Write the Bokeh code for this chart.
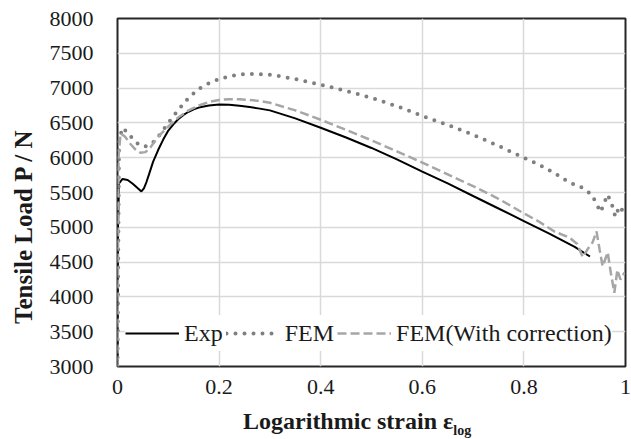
import math
from bokeh.plotting import figure
from bokeh.layouts import row, column
from bokeh.models import FixedTicker, Legend, LegendItem, Range1d
from bokeh.core.properties import value
from bokeh.embed import file_html
from bokeh.resources import INLINE

# ---- data ----
exp_x = [0.0, 0.001, 0.003, 0.01, 0.02, 0.03, 0.04, 0.047, 0.052, 0.057, 0.062, 0.07, 0.08,
         0.09, 0.1, 0.11, 0.12, 0.13, 0.14, 0.15, 0.16, 0.18, 0.2, 0.22, 0.24, 0.26, 0.28,
         0.3, 0.35, 0.4, 0.45, 0.5, 0.55, 0.6, 0.65, 0.7, 0.75, 0.8, 0.85, 0.9, 0.93]
exp_y = [3000, 5000, 5630, 5695, 5680, 5625, 5560, 5515, 5560, 5650, 5760, 5940, 6110,
         6260, 6390, 6480, 6555, 6615, 6660, 6695, 6720, 6750, 6765, 6762, 6748, 6728, 6705,
         6680, 6565, 6430, 6290, 6140, 5975, 5800, 5630, 5450, 5270, 5090, 4910, 4720, 4580]

fem_x = [0.0, 0.003, 0.01, 0.02, 0.03, 0.04, 0.05, 0.06, 0.07, 0.08, 0.09, 0.1, 0.12, 0.14,
         0.16, 0.18, 0.2, 0.22, 0.24, 0.26, 0.28, 0.3, 0.32, 0.35, 0.4, 0.45, 0.5, 0.55, 0.6,
         0.65, 0.7, 0.75, 0.8, 0.83, 0.86, 0.89, 0.91, 0.925, 0.935, 0.942, 0.951, 0.958,
         0.965, 0.975, 0.98, 0.988, 1.0]
fem_y = [3000, 6250, 6430, 6360, 6270, 6200, 6160, 6170, 6220, 6300, 6400, 6500, 6690, 6860,
         6990, 7070, 7130, 7170, 7195, 7205, 7200, 7190, 7170, 7130, 7050, 6960, 6860, 6740, 6600,
         6470, 6330, 6170, 6000, 5900, 5780, 5640, 5590, 5520, 5450, 5350, 5220, 5350,
         5470, 5290, 5150, 5300, 5180]

corr_x = [0.0, 0.002, 0.006, 0.015, 0.025, 0.035, 0.045, 0.055, 0.065, 0.075, 0.085, 0.1,
          0.12, 0.14, 0.16, 0.18, 0.2, 0.22, 0.24, 0.26, 0.28, 0.3, 0.35, 0.4, 0.45, 0.5,
          0.55, 0.6, 0.65, 0.7, 0.75, 0.8, 0.83, 0.86, 0.89, 0.905, 0.916, 0.925, 0.935,
          0.943, 0.949, 0.955, 0.965, 0.971, 0.978, 0.984, 0.99, 0.998]
corr_y = [3000, 6000, 6350, 6300, 6200, 6120, 6070, 6080, 6150, 6250, 6340, 6450,
          6580, 6680, 6750, 6800, 6830, 6840, 6840, 6830, 6815, 6790, 6680, 6545, 6400, 6250,
          6090, 5930, 5760, 5590, 5410, 5200, 5080, 4940, 4850, 4760, 4570, 4680, 4780,
          4940, 4680, 4440, 4640, 4350, 4060, 4390, 4250, 4350]

x_ticks = [0, 0.2, 0.4, 0.6, 0.8, 1.0]
x_tick_labels = ["0", "0.2", "0.4", "0.6", "0.8", "1"]
y_ticks = [3000, 3500, 4000, 4500, 5000, 5500, 6000, 6500, 7000, 7500, 8000]

series_names = ["Exp", "FEM", "FEM(With correction)"]
x_title = "Logarithmic strain ε"
x_title_sub = "log"
y_title = "Tensile Load P / N"

FONT = "Liberation Serif"
TXT = "#1a1a1a"

YT_W = 40          # y-title strip
MAIN_W = 591
MAIN_H = 404       # frame 18..366, tick labels below
XT_H = 35          # x title strip
TOTAL_H = MAIN_H + XT_H
BORDER_L = 77
BORDER_R = 6

x_range = Range1d(0, 1)


def style_axis(ax):
    ax.axis_line_color = None
    ax.major_tick_line_color = None
    ax.minor_tick_line_color = None
    ax.major_tick_out = 0
    ax.major_tick_in = 0
    ax.minor_tick_out = 0
    ax.minor_tick_in = 0
    ax.major_label_text_font = FONT
    ax.major_label_text_font_size = "22px"
    ax.major_label_text_color = TXT


# ---- main plot ----
p = figure(width=MAIN_W, height=MAIN_H, output_backend="svg", toolbar_location=None,
           title=None, x_range=x_range, y_range=Range1d(3000, 8000),
           min_border_left=BORDER_L, min_border_right=BORDER_R,
           min_border_top=18, min_border_bottom=38)
p.background_fill_color = "white"
p.border_fill_color = "white"
p.outline_line_color = "#262626"
p.outline_line_width = 2

p.xaxis.ticker = FixedTicker(ticks=x_ticks)
p.xaxis.major_label_overrides = {t: l for t, l in zip(x_ticks, x_tick_labels)}
p.yaxis.ticker = FixedTicker(ticks=y_ticks)
style_axis(p.xaxis[0])
style_axis(p.yaxis[0])
p.xaxis[0].major_label_standoff = 13
p.yaxis[0].major_label_standoff = 24

p.xgrid.ticker = FixedTicker(ticks=x_ticks)
p.ygrid.ticker = FixedTicker(ticks=y_ticks)
p.grid.grid_line_color = "#d9d9d9"
p.grid.grid_line_width = 1.5

r_exp = p.line(exp_x, exp_y, line_color="black", line_width=2)
r_fem = p.line(fem_x, fem_y, line_color="#7f7f7f", line_width=4, line_dash="0 9", line_cap="round")
r_corr = p.line(corr_x, corr_y, line_color="#a6a6a6", line_width=2.5, line_dash="9 4")

legend = Legend(items=[LegendItem(label=series_names[0], renderers=[r_exp]),
                       LegendItem(label=series_names[1], renderers=[r_fem]),
                       LegendItem(label=series_names[2], renderers=[r_corr])],
                orientation="horizontal", location=(8, 15),
                label_text_font=FONT, label_text_font_size="24px", label_text_color=TXT,
                glyph_width=54, label_standoff=5, spacing=3, padding=7,
                background_fill_color="white", background_fill_alpha=1.0,
                border_line_color=None, margin=0, label_height=36)
p.add_layout(legend, "center")

# ---- x title strip (shares the x range) ----
xt = figure(width=MAIN_W, height=XT_H, output_backend="svg", toolbar_location=None,
            title=None, x_range=x_range, y_range=Range1d(0, XT_H),
            x_axis_type=None, y_axis_type=None,
            min_border_left=BORDER_L, min_border_right=BORDER_R,
            min_border_top=0, min_border_bottom=0)
xt.grid.visible = False
xt.outline_line_color = None
xt.background_fill_color = "white"
xt.border_fill_color = "white"
xt.text(x=[0.661], y=[19.0], text=[x_title],
        text_font=value(FONT), text_font_size="24px", text_font_style="bold",
        text_color=TXT, text_align="right", text_baseline="middle")
xt.text(x=[0.661], y=[9.5], text=[x_title_sub],
        text_font=value(FONT), text_font_size="14px", text_font_style="bold",
        text_color=TXT, text_align="left", text_baseline="middle")

# ---- y title strip ----
yt = figure(width=YT_W, height=TOTAL_H, output_backend="svg", toolbar_location=None,
            title=None, x_range=Range1d(0, YT_W), y_range=Range1d(0, TOTAL_H),
            x_axis_type=None, y_axis_type=None,
            min_border_left=0, min_border_right=0, min_border_top=0, min_border_bottom=0)
yt.grid.visible = False
yt.outline_line_color = None
yt.background_fill_color = "white"
yt.border_fill_color = "white"
yt.text(x=[22.5], y=[TOTAL_H - 226], text=[y_title], angle=math.pi / 2,
        text_font=value(FONT), text_font_size="25px", text_font_style="bold",
        text_color=TXT, text_align="center", text_baseline="middle")

layout = row(yt, column(p, xt, spacing=0), spacing=0)

open("out.html", "w").write(file_html(layout, INLINE))
